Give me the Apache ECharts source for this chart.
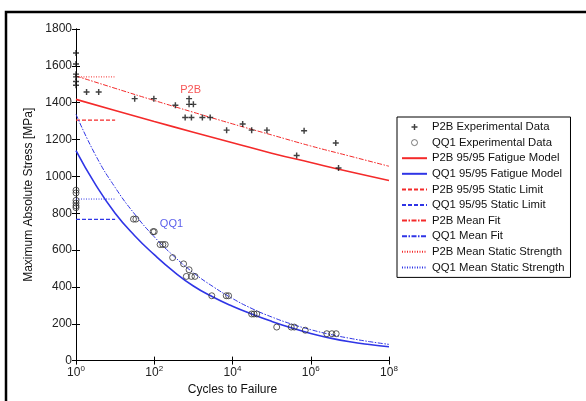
<!DOCTYPE html>
<html><head><meta charset="utf-8">
<script src="https://cdn.jsdelivr.net/npm/echarts@6/dist/echarts.min.js"></script>
<style>html,body{margin:0;padding:0;background:#fff}#c{width:586px;height:401px}</style>
</head><body><div id="c"></div>
<script>
// x axis is log10(cycles to failure)
const xTickExps = [0, 2, 4, 6, 8];
const yTicks = [0, 200, 400, 600, 800, 1000, 1200, 1400, 1600, 1800];

const p2bLogN = [0, 0, 0, 0, 0, 0, 0.27, 0.58, 1.50, 1.99, 2.54, 2.89, 2.89, 3.0, 2.79, 2.95, 3.23, 3.43, 3.85, 4.26, 4.49, 4.88, 5.64, 5.83, 6.64, 6.71];
const p2bStress = [1670, 1610, 1555, 1540, 1515, 1495, 1458, 1458, 1422, 1422, 1386, 1422, 1391, 1391, 1320, 1320, 1320, 1320, 1251, 1284, 1251, 1251, 1113, 1248, 1181, 1045];

const qq1LogN = [0, 0, 0, 0, 0, 0, 1.47, 1.53, 1.97, 2.0, 2.15, 2.22, 2.28, 2.47, 2.75, 2.89, 2.82, 2.95, 3.04, 3.47, 3.84, 3.90, 4.49, 4.55, 4.62, 5.13, 5.50, 5.58, 5.86, 6.41, 6.54, 6.65];
const qq1Stress = [925, 910, 870, 855, 840, 830, 768, 768, 700, 700, 630, 630, 630, 559, 525, 493, 457, 457, 457, 352, 352, 352, 253, 253, 253, 182, 182, 182, 165, 146, 146, 146];

const p2bCurveLogN = [0, 1, 2, 3, 4, 5, 6, 7, 8];
const p2bFatigue = [1418, 1358, 1298, 1240, 1183, 1126, 1075, 1025, 978];
const p2bMeanFit = [1545, 1478, 1412, 1348, 1285, 1225, 1165, 1110, 1055];

const qq1CurveLogN = [0, 0.5, 1, 1.5, 2, 2.5, 3, 3.5, 4, 4.5, 5, 5.5, 6, 6.5, 7, 7.5, 8];
const qq1Fatigue = [1140, 955, 800, 678, 575, 483, 405, 345, 295, 252, 213, 178, 147, 122, 102, 87, 75];
const qq1MeanFit = [1337, 1115, 940, 795, 672, 567, 477, 402, 337, 282, 237, 199, 168, 142, 121, 103, 88];

const staticLogN = [0, 1];
const p2bStaticLimit = [1305, 1305];
const qq1StaticLimit = [767, 767];
const p2bMeanStatic = [1540, 1540];
const qq1MeanStatic = [877, 877];

const annotationText = ['P2B', 'QQ1'];
const annotationLogN = [2.93, 2.44];
const annotationStress = [1467, 739];

const RED = '#f42a2a', BLUE = '#2f35e6';
const zip = (xs, ys) => xs.map((x, i) => [x, ys[i]]);
const plusPath = 'path://M0.38,0H0.62V0.38H1V0.62H0.62V1H0.38V0.62H0V0.38H0.38Z';

const lineSeries = (name, xs, ys, color, type, width, smooth) => ({
  name, type: 'line', data: zip(xs, ys), symbol: 'none', showSymbol: false, smooth: smooth ? 0.5 : false,
  lineStyle: { color, type, width }, itemStyle: { color }, z: 3
});

const lineNames = ['P2B 95/95 Fatigue Model', 'QQ1 95/95 Fatigue Model',
  'P2B 95/95 Static Limit', 'QQ1 95/95 Static Limit', 'P2B Mean Fit', 'QQ1 Mean Fit',
  'P2B Mean Static Strength', 'QQ1 Mean Static Strength'];

const chart = echarts.init(document.getElementById('c'), null, { renderer: 'canvas' });
const axisCommon = {
  type: 'value',
  axisLine: { show: true, lineStyle: { color: '#000', width: 1 } },
  axisTick: { show: true, inside: true, length: 4, lineStyle: { color: '#000' } },
  splitLine: { show: false }
};
chart.setOption({
  animation: false,
  backgroundColor: '#fff',
  textStyle: { fontFamily: 'Liberation Sans, Arial, sans-serif' },
  grid: { left: 76, right: 197, top: 29, bottom: 38 },
  xAxis: [
    Object.assign({}, axisCommon, {
      min: xTickExps[0], max: xTickExps[xTickExps.length - 1], interval: 2, position: 'bottom',
      name: 'Cycles to Failure', nameLocation: 'middle', nameGap: 23,
      nameTextStyle: { fontSize: 12, color: '#111' },
      axisLabel: {
        margin: 4, color: '#222', fontSize: 12,
        formatter: v => '10{s|' + v + '}',
        rich: { s: { fontSize: 8, padding: [0, 0, 9, 0], color: '#222' } }
      }
    }),
    Object.assign({}, axisCommon, {
      min: 0, max: 8, interval: 2, position: 'top', axisLabel: { show: false }
    })
  ],
  yAxis: [
    Object.assign({}, axisCommon, {
      min: yTicks[0], max: yTicks[yTicks.length - 1], interval: 200, position: 'left',
      name: 'Maximum Absolute Stress [MPa]', nameLocation: 'middle', nameGap: 32,
      nameTextStyle: { fontSize: 12, color: '#111' },
      axisLabel: { margin: 4, color: '#222', fontSize: 12, formatter: v => String(v) }
    }),
    Object.assign({}, axisCommon, {
      min: 0, max: 1800, interval: 200, position: 'right', axisLabel: { show: false }
    })
  ],
  legend: {
    orient: 'vertical', left: 397, top: 117,
    padding: [4, 6, 4, 4],
    borderColor: '#000', borderWidth: 1,
    itemWidth: 25, itemHeight: 6, itemGap: 3.6,
    textStyle: { fontSize: 11.3, color: '#111', lineHeight: 12 },
    data: [
      'P2B Experimental Data',
      { name: 'QQ1 Experimental Data', itemStyle: { borderWidth: 0.8 } }
    ].concat(lineNames.map(n => ({ name: n, itemStyle: { opacity: 0 } })))
  },
  graphic: [{
    type: 'rect', shape: { x: 6, y: 12, width: 620, height: 420 },
    style: { fill: 'none', stroke: '#000', lineWidth: 2.5 }, silent: true, z: 100
  }],
  series: [
    lineSeries(lineNames[0], p2bCurveLogN, p2bFatigue, RED, 'solid', 1.6, true),
    lineSeries(lineNames[1], qq1CurveLogN, qq1Fatigue, BLUE, 'solid', 1.6, true),
    lineSeries(lineNames[2], staticLogN, p2bStaticLimit, RED, [4, 2], 1.2, false),
    lineSeries(lineNames[3], staticLogN, qq1StaticLimit, BLUE, [4, 2], 1.2, false),
    lineSeries(lineNames[4], p2bCurveLogN, p2bMeanFit, RED, [5, 1.5, 1.5, 1.5], 1, true),
    lineSeries(lineNames[5], qq1CurveLogN, qq1MeanFit, BLUE, [5, 1.5, 1.5, 1.5], 1, true),
    lineSeries(lineNames[6], staticLogN, p2bMeanStatic, RED, [1, 1.5], 1, false),
    lineSeries(lineNames[7], staticLogN, qq1MeanStatic, BLUE, [1, 1.5], 1, false),
    {
      name: 'P2B Experimental Data', type: 'scatter', data: zip(p2bLogN, p2bStress),
      symbol: plusPath, symbolSize: 6, itemStyle: { color: '#111' }, z: 5
    },
    {
      name: 'QQ1 Experimental Data', type: 'scatter', data: zip(qq1LogN, qq1Stress),
      symbol: 'circle', symbolSize: 6,
      itemStyle: { color: 'rgba(255,255,255,0)', borderColor: '#333', borderWidth: 1 }, z: 5
    },
    {
      name: 'labels', type: 'scatter', symbolSize: 0, silent: true, z: 6,
      data: annotationText.map((t, i) => ({
        value: [annotationLogN[i], annotationStress[i]],
        label: { show: true, formatter: t, position: 'inside', fontSize: 11, color: i === 0 ? RED : BLUE }
      }))
    }
  ]
});
</script></body></html>
